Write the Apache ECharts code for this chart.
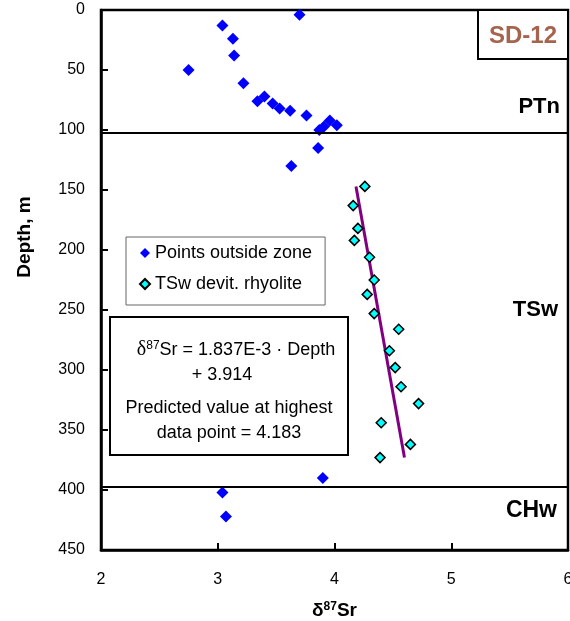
<!DOCTYPE html>
<html>
<head>
<meta charset="utf-8">
<script src="https://cdn.jsdelivr.net/npm/echarts@6/dist/echarts.min.js"></script>
<style>
  html, body { margin: 0; padding: 0; background: #fff; }
  #chart { width: 570px; height: 621px; }
</style>
</head>
<body>
<div id="chart"></div>
<script>
// [delta87Sr, depth (m)]
var outsidePoints = [
    [3.70, 4], [3.04, 13], [3.13, 24], [3.14, 38], [2.75, 50],
    [3.22, 61], [3.34, 76], [3.40, 72], [3.47, 78], [3.53, 82],
    [3.62, 84], [3.76, 88], [3.87, 100], [3.91, 97], [3.96, 92],
    [4.02, 96], [3.86, 115], [3.63, 130],
    [3.90, 390], [3.04, 402], [3.07, 422]
];
var rhyolitePoints = [
    [4.26, 147], [4.16, 163], [4.20, 182], [4.17, 192], [4.30, 206],
    [4.34, 225], [4.28, 237], [4.34, 253], [4.55, 266], [4.47, 284],
    [4.52, 298], [4.57, 314], [4.72, 328], [4.40, 344], [4.65, 362],
    [4.39, 373]
];
// regression: d87Sr = slope * depth + intercept
var fitSlope = 1.837e-3;
var fitIntercept = 3.914;
var fitDepths = [147, 373];
var zoneBoundaries = [102, 397];
var xTicks = { min: 2, max: 6, step: 1 };
var yTicks = { min: 0, max: 450, step: 50 };

var font = 'Liberation Sans, Arial, sans-serif';
var myChart = echarts.init(document.getElementById('chart'));

var fitLine = fitDepths.map(function (d) {
    return [fitSlope * d + fitIntercept, d];
});

var option = {
    animation: false,
    backgroundColor: '#fff',
    grid: {
        left: 101, right: 2, top: 10, bottom: 71,
        outerBoundsMode: 'none',
        show: true, borderColor: '#000', borderWidth: 2.5
    },
    legend: {
        left: 126, top: 237,
        orient: 'vertical',
        data: ['Points outside zone', 'TSw devit. rhyolite'],
        backgroundColor: '#fff',
        borderColor: '#666', borderWidth: 1,
        padding: [7, 13, 12, 13],
        itemWidth: 10, itemHeight: 10, itemGap: 13,
        textStyle: { fontSize: 18, color: '#000', fontFamily: font }
    },
    xAxis: {
        type: 'value',
        min: xTicks.min, max: xTicks.max, interval: xTicks.step,
        name: '{d|δ}{s|87}{n|Sr}',
        nameLocation: 'middle',
        nameGap: 51,
        nameTextStyle: {
            rich: {
                d: { fontSize: 19, fontWeight: 'bold', fontFamily: font, color: '#000' },
                s: { fontSize: 12, fontWeight: 'bold', fontFamily: font, color: '#000', verticalAlign: 'top' },
                n: { fontSize: 19, fontWeight: 'bold', fontFamily: font, color: '#000' }
            }
        },
        axisLine: { show: true, onZero: false, lineStyle: { color: '#000', width: 2.5 } },
        axisTick: { inside: true, length: 7, lineStyle: { color: '#000', width: 2 } },
        axisLabel: { fontSize: 16, color: '#000', margin: 22, fontFamily: font },
        splitLine: { show: false }
    },
    yAxis: {
        type: 'value',
        inverse: true,
        min: yTicks.min, max: yTicks.max, interval: yTicks.step,
        axisLine: { show: true, onZero: false, lineStyle: { color: '#000', width: 2.5 } },
        axisTick: { inside: true, length: 7, lineStyle: { color: '#000', width: 2 } },
        axisLabel: { fontSize: 16, color: '#000', margin: 16, fontFamily: font },
        splitLine: { show: false }
    },
    series: [
        {
            name: 'Points outside zone',
            type: 'scatter',
            symbol: 'diamond',
            symbolSize: 12,
            itemStyle: { color: '#0000ff', opacity: 1 },
            data: outsidePoints,
            z: 3,
            markLine: {
                silent: true,
                symbol: 'none',
                label: { show: false },
                lineStyle: { color: '#000', width: 2, type: 'solid' },
                data: zoneBoundaries.map(function (d) { return { yAxis: d }; })
            }
        },
        {
            name: 'TSw devit. rhyolite',
            type: 'scatter',
            symbol: 'diamond',
            symbolSize: 10,
            itemStyle: { color: '#00ffff', borderColor: '#000', borderWidth: 1.5, opacity: 1 },
            data: rhyolitePoints,
            z: 4
        },
        {
            name: 'fit',
            type: 'line',
            showSymbol: false,
            symbol: 'none',
            lineStyle: { color: '#800080', width: 3 },
            data: fitLine,
            z: 2
        }
    ],
    graphic: [
        {
            type: 'rect', z: 100,
            shape: { x: 110, y: 317, width: 238, height: 138 },
            style: { fill: '#fff', stroke: '#000', lineWidth: 2 }
        },
        {
            type: 'text', z: 101, x: 236, y: 350,
            style: {
                text: '{d|δ}{s|87}{n|Sr = 1.837E-3 · Depth}',
                align: 'center', verticalAlign: 'middle',
                rich: {
                    d: { fontSize: 20, fontFamily: 'Liberation Serif, Times New Roman, serif', fill: '#000' },
                    s: { fontSize: 12, fontFamily: font, fill: '#000', verticalAlign: 'top' },
                    n: { fontSize: 18, fontFamily: font, fill: '#000' }
                }
            }
        },
        {
            type: 'text', z: 101, x: 222, y: 375,
            style: { text: '+ 3.914', align: 'center', verticalAlign: 'middle', fontSize: 18, fontFamily: font, fill: '#000' }
        },
        {
            type: 'text', z: 101, x: 229, y: 408,
            style: { text: 'Predicted value at highest', align: 'center', verticalAlign: 'middle', fontSize: 18, fontFamily: font, fill: '#000' }
        },
        {
            type: 'text', z: 101, x: 229, y: 433,
            style: { text: 'data point = 4.183', align: 'center', verticalAlign: 'middle', fontSize: 18, fontFamily: font, fill: '#000' }
        },
        {
            type: 'rect', z: 100,
            shape: { x: 478, y: 10, width: 90, height: 49 },
            style: { fill: '#fff', stroke: '#000', lineWidth: 2 }
        },
        {
            type: 'text', z: 101, x: 523, y: 36,
            style: { text: 'SD-12', align: 'center', verticalAlign: 'middle', fontSize: 24, fontWeight: 'bold', fontFamily: font, fill: '#a5644e' }
        },
        {
            type: 'text', z: 101, x: 560, y: 107,
            style: { text: 'PTn', align: 'right', verticalAlign: 'middle', fontSize: 22, fontWeight: 'bold', fontFamily: font, fill: '#000' }
        },
        {
            type: 'text', z: 101, x: 558, y: 310,
            style: { text: 'TSw', align: 'right', verticalAlign: 'middle', fontSize: 22, fontWeight: 'bold', fontFamily: font, fill: '#000' }
        },
        {
            type: 'text', z: 101, x: 557, y: 511,
            style: { text: 'CHw', align: 'right', verticalAlign: 'middle', fontSize: 23, fontWeight: 'bold', fontFamily: font, fill: '#000' }
        },
        {
            type: 'text', z: 101, x: 25, y: 237, rotation: Math.PI / 2,
            style: { text: 'Depth, m', align: 'center', verticalAlign: 'middle', fontSize: 19, fontWeight: 'bold', fontFamily: font, fill: '#000' }
        }
    ]
};

myChart.setOption(option);
</script>
</body>
</html>
